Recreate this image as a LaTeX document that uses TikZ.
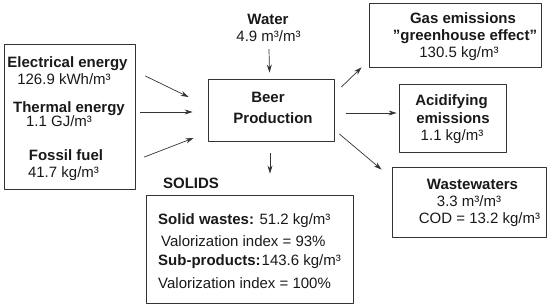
\documentclass[tikz,border=0pt]{standalone}
\usepackage{fontspec}
\setmainfont{Liberation Sans}
\usetikzlibrary{arrows.meta}
\begin{document}
\begin{tikzpicture}[x=1pt, y=-1pt, line join=round, line cap=round, font=\fontsize{15}{17}\selectfont,
	box/.style={draw=black!80, line width=0.8pt, inner sep=0pt},
	txt/.style={inner sep=0pt, text height=12.5pt, text depth=1.5pt, text=black!90},
	head/.style={txt, font=\fontsize{15}{17}\selectfont\bfseries},
	flow/.style={draw=black!80, line width=0.7pt, -{Stealth[length=8pt,width=5pt]}}]
	\useasboundingbox (0,0) rectangle (550,307);
	\node[box, minimum width=131pt, minimum height=145pt] (inputs) at (69.5,116.5) {};
	\node[box, minimum width=126pt, minimum height=62pt] (beer) at (271,110) {};
	\node[box, minimum width=172pt, minimum height=64pt] (gas) at (455,35) {};
	\node[box, minimum width=107pt, minimum height=68pt] (acid) at (452.5,118) {};
	\node[box, minimum width=154pt, minimum height=70pt] (waste) at (469,202) {};
	\node[box, minimum width=207pt, minimum height=108pt] (solids) at (249.5,249) {};
	\node[head] (elec) at (67.5,62) {Electrical energy};
	\node[txt] (elecval) at (64,79) {126.9 kWh/m³};
	\node[head] (therm) at (69,107) {Thermal energy};
	\node[txt] (thermval) at (59,121) {1.1 GJ/m³};
	\node[head] (fossil) at (66,155) {Fossil fuel};
	\node[txt] (fossilval) at (63.5,172) {41.7 kg/m³};
	\node[head] (water) at (268,19) {Water};
	\node[txt] (waterval) at (268.5,36) {4.9 m³/m³};
	\node[head] (beertop) at (268,97) {Beer};
	\node[head] (beerbot) at (273,118) {Production};
	\node[head] (gashead) at (463,18) {Gas emissions};
	\node[head] (gasnote) at (465,35) {\symbol{34}greenhouse effect\symbol{34}};
	\node[txt] (gasval) at (459,52) {130.5 kg/m³};
	\node[head] (acidtop) at (451.5,100) {Acidifying};
	\node[head] (acidbot) at (453,118) {emissions};
	\node[txt] (acidval) at (452,135) {1.1 kg/m³};
	\node[head] (wastehead) at (472.5,184) {Wastewaters};
	\node[txt] (wasteval) at (469,201) {3.3 m³/m³};
	\node[txt] (wastecod) at (479.5,218) {COD = 13.2 kg/m³};
	\node[head] (solidhead) at (191,183) {SOLIDS};
	\node[txt, anchor=west] (swaste) at (158,219) {\textbf{Solid wastes:} 51.2 kg/m³};
	\node[txt, anchor=west] (sindexa) at (161,241) {Valorization index = 93\%};
	\node[txt, anchor=west] (sprod) at (158,260) {\textbf{Sub-products:}\kern1pt143.6 kg/m³};
	\node[txt, anchor=west] (sindexb) at (158,283) {Valorization index = 100\%};
	\draw[flow] ([shift={(10,-40.5)}]inputs.east) -- ([shift={(-19,-13)}]beer.west);
	\draw[flow] ([shift={(5,-4.5)}]inputs.east) -- ([shift={(-15,2)}]beer.west);
	\draw[flow] ([shift={(9,40.5)}]inputs.east) -- ([shift={(-14,28)}]beer.west);
	\draw[flow] ([shift={(0.5,6)}]waterval.south) -- ([shift={(-1.5,-6)}]beer.north);
	\draw[flow] ([shift={(-1,12)}]beer.south) -- ([shift={(20.5,-21)}]solids.north);
	\draw[flow] ([shift={(7,-23)}]beer.east) -- ([shift={(-7,0)}]gas.south west);
	\draw[flow] ([shift={(12,3)}]beer.east) -- ([shift={(-2,-5)}]acid.west);
	\draw[flow] ([shift={(5,24)}]beer.east) -- ([shift={(-10,3)}]waste.north west);
\end{tikzpicture}
\end{document}
